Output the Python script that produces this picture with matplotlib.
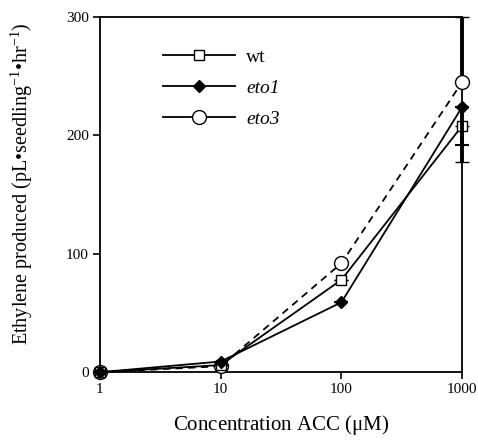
import matplotlib
matplotlib.use('Agg')
import matplotlib.pyplot as plt
from matplotlib.lines import Line2D

plt.rcParams['font.family'] = ['Liberation Serif', 'DejaVu Serif']
plt.rcParams['mathtext.fontset'] = 'custom'
plt.rcParams['mathtext.rm'] = 'Liberation Serif'
plt.rcParams['mathtext.it'] = 'Liberation Serif:italic'

# Datos
acc = [1, 10, 100, 1000]
wt = [0, 6, 78, 208]
eto1 = [0, 9, 59, 224]
eto3 = [0, 5, 92, 245]

# barras de error solo en 1000 uM (abajo, arriba)
wt_err = [[0, 0, 0, 31], [0, 0, 0, 0]]
eto1_err = [[0, 0, 0, 32], [0, 0, 0, 0]]
eto3_err = [[0, 0, 0, 0], [0, 0, 0, 55]]

fig = plt.figure(figsize=(4.78, 4.42), dpi=100)
ax = fig.add_axes([0.209, 0.158, 0.758, 0.804])

estilo_err = dict(ecolor='black', elinewidth=2.8, capsize=5, capthick=1.5)

c3 = ax.errorbar(acc, eto3, yerr=eto3_err, color='black', lw=1.3, ls=(0, (4, 3)),
                 marker='o', ms=10, mfc='white', mec='black', mew=1.0, zorder=3, **estilo_err)
c1 = ax.errorbar(acc, wt, yerr=wt_err, color='black', lw=1.3,
                 marker='s', ms=7.5, mfc='white', mec='black', mew=1.0, zorder=4, **estilo_err)
c2 = ax.errorbar(acc, eto1, yerr=eto1_err, color='black', lw=1.3,
                 marker='D', ms=6.5, mfc='black', mec='black', zorder=5, **estilo_err)
for c in (c1, c2, c3):
    for art in c.get_children():
        art.set_clip_on(False)

ax.set_xscale('log')
ax.set_xlim(1, 1000)
ax.set_ylim(0, 300)
ax.set_xticks(acc)
ax.set_xticklabels(['1', '10', '100', '1000'])
ax.minorticks_off()
ax.set_yticks([0, 100, 200, 300])
ax.tick_params(direction='out', length=5, width=1.2, labelsize=11, pad=3)

for s in ax.spines.values():
    s.set_linewidth(1.3)

ax.set_xlabel(r'Concentration ACC ($\mathrm{\mu}$M)', fontsize=15, labelpad=12)
ax.set_ylabel(r'Ethylene produced (pL•seedling$^{-1}$•hr$^{-1}$)', fontsize=14.5)
ax.yaxis.set_label_coords(-0.18, 0.53)

handles = [
    Line2D([], [], color='black', lw=1.3, marker='s', ms=7.5, mfc='white', mec='black'),
    Line2D([], [], color='black', lw=1.3, marker='D', ms=6.5, mfc='black'),
    Line2D([], [], color='black', lw=1.3, marker='o', ms=10, mfc='white', mec='black'),
]
labels = ['wt', 'eto1', 'eto3']
leg = ax.legend(handles, labels, loc='upper left', bbox_to_anchor=(0.125, 0.96),
                frameon=False, fontsize=14, handlelength=3.7, labelspacing=0.68,
                handletextpad=0.6)
leg.get_texts()[1].set_style('italic')
leg.get_texts()[2].set_style('italic')

fig.savefig('out.png', dpi=100)
